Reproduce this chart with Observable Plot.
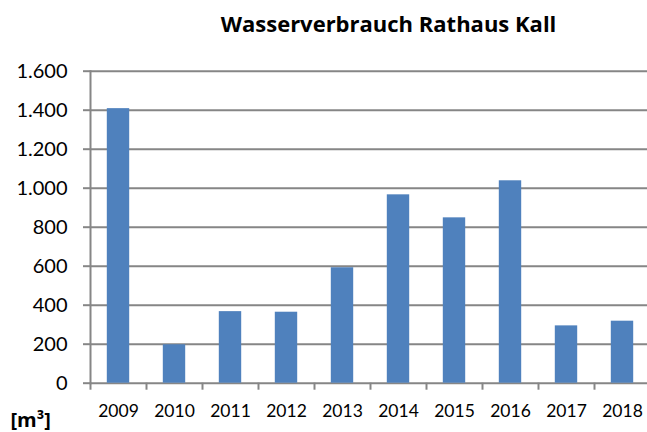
<!DOCTYPE html>
<html>
<head>
<meta charset="utf-8">
<script src="https://cdn.jsdelivr.net/npm/d3@7"></script>
<script src="https://cdn.jsdelivr.net/npm/@observablehq/plot@0.6"></script>
<style>
  html, body { margin: 0; padding: 0; background: #fff; }
  svg { display: block; }
</style>
</head>
<body>
<div id="chart"></div>
<script>
const years = ["2009","2010","2011","2012","2013","2014","2015","2016","2017","2018"];
const values = [1408, 197, 367, 364, 592, 966, 848, 1038, 294, 318];
const yTicks = [0, 200, 400, 600, 800, 1000, 1200, 1400, 1600];
const title = "Wasserverbrauch Rathaus Kall";
const unitLabel = "[m³]";

const data = years.map((year, i) => ({year, value: values[i]}));
const fmt = d3.formatLocale({decimal: ",", thousands: ".", grouping: [3], currency: ["", " €"]}).format(",d");

const gray = "#868686";
const font = "Lato, 'Open Sans', sans-serif";
const boldFont = "'Open Sans', Lato, sans-serif";

const chart = Plot.plot({
  width: 647,
  height: 432,
  marginLeft: 90,
  marginRight: 0,
  marginTop: 70.7,
  marginBottom: 49.3,
  style: {fontFamily: font, background: "#fff"},
  x: {domain: years, range: [90, 650], padding: 0},
  y: {domain: [0, 1600], ticks: yTicks},
  marks: [
    Plot.ruleY(yTicks, {stroke: gray, strokeWidth: 2}),
    Plot.barY(data, {x: "year", y: "value", fill: "#4F81BD", insetLeft: 16.8, insetRight: 16.8}),
    Plot.frame({anchor: "left", stroke: gray, strokeWidth: 2}),
    Plot.ruleX(years, {x: d => d, dx: -28, stroke: gray, strokeWidth: 2, insetTop: 312, insetBottom: -7}),
    Plot.axisY({ticks: yTicks, tickFormat: fmt, tickSize: 7, tickPadding: 16, stroke: gray, strokeWidth: 2, strokeOpacity: 1, fontSize: 20, fill: "#000", label: null}),
    Plot.axisX({tickSize: 0, tickPadding: 21.6, fontSize: 17.5, fill: "#000", label: null}),
    Plot.text([title], {frameAnchor: "top-left", dx: 298, dy: -39, textAnchor: "middle", lineAnchor: "bottom", fontSize: 22, fontWeight: "bold", fontFamily: boldFont, fill: "#000"}),
    Plot.text([unitLabel], {frameAnchor: "bottom-left", dx: -80, dy: 43.3, textAnchor: "start", lineAnchor: "bottom", fontSize: 20, fontWeight: "bold", fontFamily: boldFont, fill: "#000"})
  ]
});
document.getElementById("chart").appendChild(chart);
</script>
</body>
</html>
